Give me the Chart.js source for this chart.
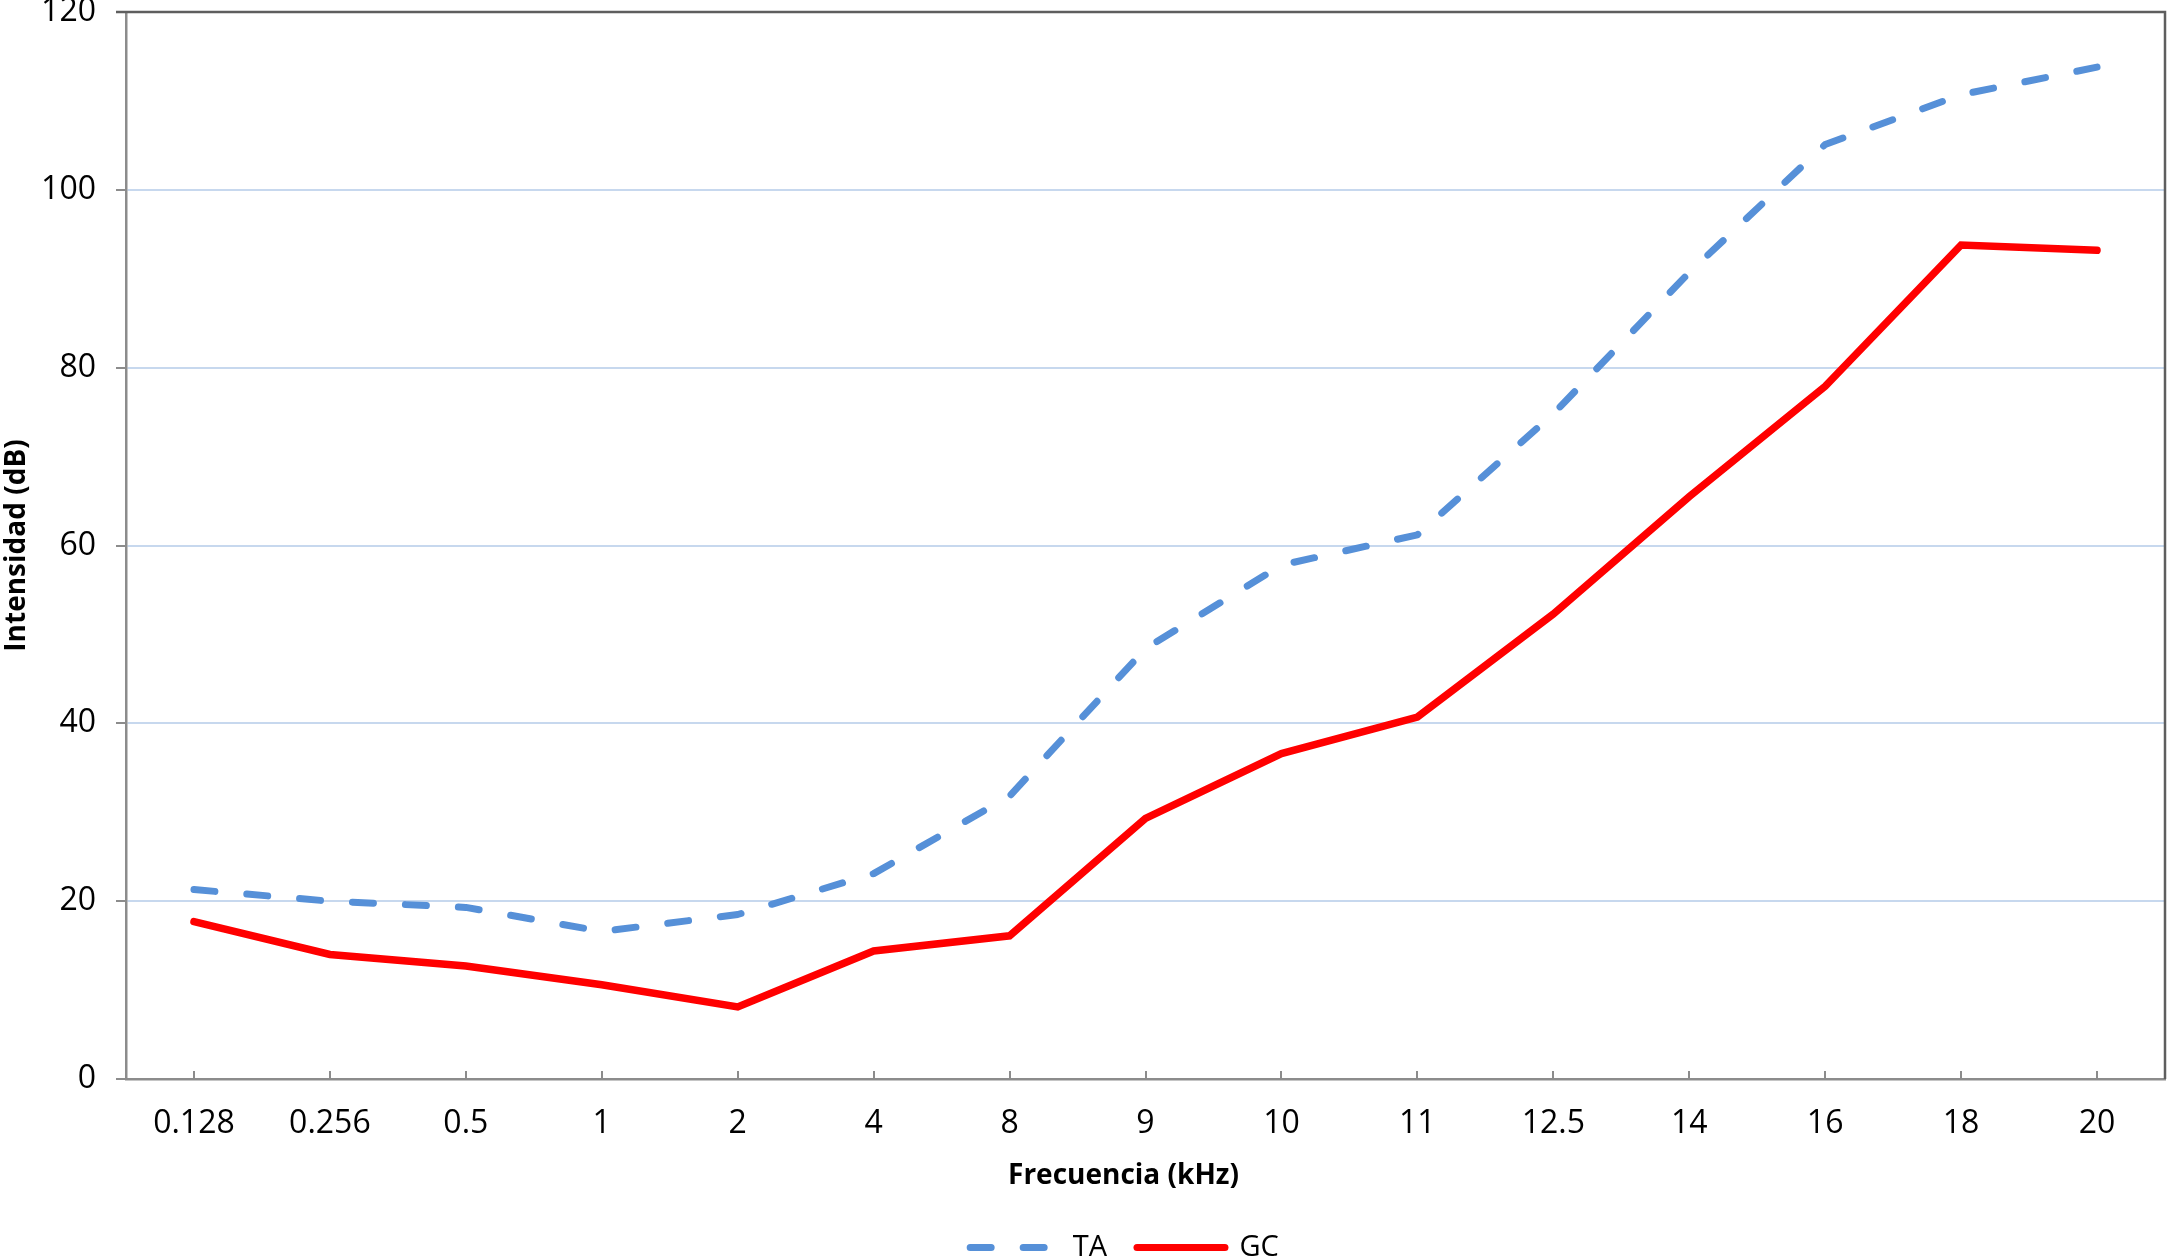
<!DOCTYPE html>
<html>
<head>
<meta charset="utf-8">
<script src="https://cdn.jsdelivr.net/npm/chart.js@4/dist/chart.umd.min.js"></script>
<style>
  html, body { margin: 0; padding: 0; background: #ffffff; }
  #wrap { width: 2167px; height: 1257px; position: relative; }
</style>
</head>
<body>
<div id="wrap"><canvas id="c" width="2167" height="1257"></canvas></div>
<script>
const categories = ['0.128', '0.256', '0.5', '1', '2', '4', '8', '9', '10', '11', '12.5', '14', '16', '18', '20'];
const taValues = [21.3, 20.0, 19.3, 16.6, 18.5, 23.1, 31.8, 48.4, 57.8, 61.2, 74.8, 90.7, 105.1, 110.7, 113.8];
const gcValues = [17.7, 14.0, 12.7, 10.6, 8.1, 14.4, 16.1, 29.3, 36.6, 40.7, 52.3, 65.5, 77.9, 93.8, 93.2];
const seriesNames = ['TA', 'GC'];
const yTicks = { min: 0, max: 120, step: 20 };
const xTitle = 'Frecuencia (kHz)';
const yTitle = 'Intensidad (dB)';

const FONT = '"Open Sans", "Noto Sans", sans-serif';

const framePlugin = {
  id: 'frame',
  afterLayout(chart) {
    const lg = chart.legend;
    if (lg) {
      const dx = 42, dy = 15;
      lg.left += dx; lg.right += dx;
      lg.top += dy; lg.bottom += dy;
    }
  },
  afterDatasetsDraw(chart) {
    const { ctx, chartArea: a } = chart;
    const xs = chart.scales.x;
    ctx.save();
    // x tick marks pointing up from the axis at category centres
    ctx.strokeStyle = '#8c8c8c';
    ctx.lineWidth = 2;
    for (let i = 0; i < xs.ticks.length; i++) {
      const px = Math.round(xs.getPixelForTick(i));
      ctx.beginPath();
      ctx.moveTo(px, a.bottom);
      ctx.lineTo(px, a.bottom - 8);
      ctx.stroke();
    }
    // top and right frame
    ctx.strokeStyle = '#5e5e5e';
    ctx.lineWidth = 2.5;
    ctx.beginPath();
    ctx.moveTo(a.left - 10, a.top);
    ctx.lineTo(a.right, a.top);
    ctx.lineTo(a.right, a.bottom);
    ctx.stroke();
    // x axis title
    ctx.fillStyle = '#000000';
    ctx.font = 'bold 28px ' + FONT;
    ctx.textAlign = 'center';
    ctx.textBaseline = 'middle';
    ctx.fillText(xTitle, (a.left + a.right) / 2 - 22, a.bottom + 97);
    ctx.restore();
  }
};

new Chart(document.getElementById('c'), {
  type: 'line',
  data: {
    labels: categories,
    datasets: [
      {
        label: seriesNames[0],
        data: taValues,
        borderColor: '#5690d8',
        backgroundColor: '#5690d8',
        borderWidth: 7,
        borderDash: [21, 32],
        borderCapStyle: 'round',
        borderJoinStyle: 'round',
        pointRadius: 0,
        pointHoverRadius: 0,
        tension: 0,
        fill: false
      },
      {
        label: seriesNames[1],
        data: gcValues,
        borderColor: '#ff0000',
        backgroundColor: '#ff0000',
        borderWidth: 7.5,
        borderCapStyle: 'round',
        borderJoinStyle: 'miter',
        pointRadius: 0,
        pointHoverRadius: 0,
        tension: 0,
        fill: false
      }
    ]
  },
  options: {
    responsive: false,
    animation: false,
    devicePixelRatio: 1,
    layout: { padding: { top: 12, right: 2, left: 0, bottom: 0 } },
    plugins: {
      tooltip: { enabled: false },
      legend: {
        position: 'bottom',
        labels: {
          usePointStyle: true,
          pointStyle: 'line',
          pointStyleWidth: 88,
          boxHeight: 10,
          color: '#000000',
          font: { family: FONT, size: 29 },
          padding: 30,
          generateLabels(chart) {
            const items = Chart.defaults.plugins.legend.labels.generateLabels(chart);
            return items.map((it) => {
              const ds = chart.data.datasets[it.datasetIndex];
              it.lineDash = ds.borderDash || [];
              it.lineCap = 'round';
              it.lineWidth = 7;
              it.strokeStyle = ds.borderColor;
              it.fillStyle = ds.borderColor;
              it.pointStyle = 'line';
              return it;
            });
          }
        }
      }
    },
    scales: {
      x: {
        type: 'category',
        offset: true,
        grid: { display: true, drawOnChartArea: false, drawTicks: false, color: '#8c8c8c' },
        border: { display: true, color: '#8c8c8c', width: 2.5 },
        ticks: { color: '#000000', font: { family: FONT, size: 32 }, padding: 26, maxRotation: 0, autoSkip: false },
        title: { display: false },
        afterFit(s) { s.height = 109; s.paddingLeft = 0; s.paddingRight = 0; }
      },
      y: {
        min: yTicks.min,
        max: yTicks.max,
        grid: {
          color: (c) => (c.tick && (c.tick.value === yTicks.min || c.tick.value === yTicks.max)) ? 'rgba(0,0,0,0)' : '#c7d8ee',
          lineWidth: 2,
          drawTicks: true,
          tickLength: 10,
          tickColor: '#8c8c8c',
          tickWidth: 2
        },
        border: { display: true, color: '#8c8c8c', width: 2.5 },
        ticks: { stepSize: yTicks.step, color: '#000000', font: { family: FONT, size: 32 }, padding: 20 },
        title: {
          display: true,
          text: yTitle,
          color: '#000000',
          font: { family: FONT, size: 28, weight: 'bold' },
          padding: { top: 0, bottom: 0 }
        },
        afterFit(s) { s.width = 126; s.paddingTop = 0; s.paddingBottom = 0; }
      }
    }
  },
  plugins: [framePlugin]
});
</script>
</body>
</html>
